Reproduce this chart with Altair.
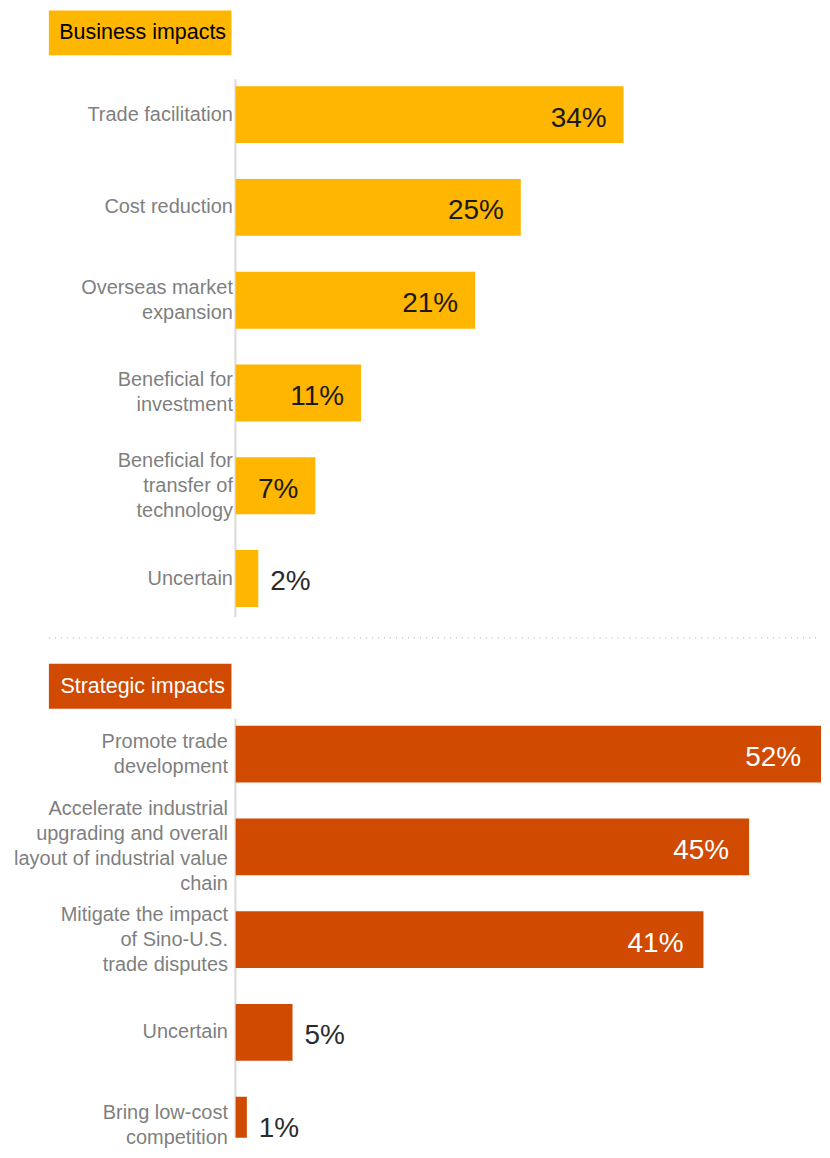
import altair as alt
import pandas as pd

# ---------------- data ----------------
business_categories = [
    "Trade facilitation",
    "Cost reduction",
    "Overseas market|expansion",
    "Beneficial for|investment",
    "Beneficial for|transfer of|technology",
    "Uncertain",
]
business_values = [34, 25, 21, 11, 7, 2]

strategic_categories = [
    "Promote trade|development",
    "Accelerate industrial|upgrading and overall|layout of industrial value|chain",
    "Mitigate the impact|of Sino-U.S.|trade disputes",
    "Uncertain",
    "Bring low-cost|competition",
]
strategic_values = [52, 45, 41, 5, 1]

business_title = "Business impacts"
strategic_title = "Strategic impacts"

FONT = "Liberation Sans"
PLOT_W = 587
X_MAX = 51.3
LINE_H = 25


def panel(cats, vals, bar_color, inside_color, inside_dx, view_h, range_h,
          pad_outer, align, label_pad, heading, heading_fill, heading_color,
          heading_y, extra=None):
    df = pd.DataFrame({"category": cats, "value": vals})
    base = alt.Chart(df).transform_calculate(
        label="datum.value + '%'"
    ).encode(
        y=alt.Y(
            "category:N",
            sort=cats,
            scale=alt.Scale(paddingInner=36 / 93, paddingOuter=pad_outer,
                            align=align, range=[0, range_h]),
            axis=alt.Axis(
                title=None,
                labelExpr="split(datum.label, '|')",
                labelOffset=alt.ExprRef(
                    expr=f"-(length(split(datum.value, '|')) - 1) * {LINE_H / 2}"
                ),
                labelFont=FONT,
                labelFontSize=20,
                labelColor="#7F7F7F",
                labelLineHeight=LINE_H,
                labelPadding=label_pad,
                labelLimit=0,
                ticks=False,
                domain=False,
            ),
        ),
        x=alt.X("value:Q",
                scale=alt.Scale(domain=[0, X_MAX], nice=False, clamp=True),
                axis=None),
    )
    axis_line = alt.Chart(alt.Data(values=[{"a": 1}])).mark_rule(
        color="#D9D9D9", strokeWidth=2
    ).encode(x=alt.value(0), y=alt.value(0), y2=alt.value(view_h))
    bars = base.mark_bar(color=bar_color, clip=True)
    inside = base.transform_filter("datum.value >= 6").mark_text(
        align="right", baseline="middle", dx=inside_dx, dy=4,
        font=FONT, fontSize=28, color=inside_color,
    ).encode(text="label:N")
    outside = base.transform_filter("datum.value < 6").mark_text(
        align="left", baseline="middle", dx=12, dy=4,
        font=FONT, fontSize=28, color="#2B2B2B",
    ).encode(text="label:N")

    head_box = alt.Chart(alt.Data(values=[{"t": heading}])).mark_rect(
        color=heading_fill
    ).encode(
        x=alt.value(-187), x2=alt.value(-4),
        y=alt.value(heading_y), y2=alt.value(heading_y + 45),
    )
    head_text = alt.Chart(alt.Data(values=[{"t": heading}])).mark_text(
        align="center", baseline="middle", font=FONT, fontSize=21.5, color=heading_color,
    ).encode(
        x=alt.value(-93), y=alt.value(heading_y + 23), text="t:N"
    )
    layers = [axis_line, bars, inside, outside, head_box, head_text]
    if extra is not None:
        layers = extra + layers
    return alt.layer(*layers).properties(width=PLOT_W, height=view_h)


anchor = alt.Chart(alt.Data(values=[{"a": 1}])).mark_rule(
    color="white", strokeWidth=1
).encode(x=alt.value(-227), y=alt.value(0), y2=alt.value(1))

separator = alt.Chart(alt.Data(values=[{"a": 1}])).mark_rule(
    color="#A6A6A6", strokeWidth=1, strokeDash=[1, 5]
).encode(x=alt.value(-187), x2=alt.value(PLOT_W), y=alt.value(-81))

top = panel(
    business_categories, business_values, "#FFB600", "#1A1A1A", -17,
    539, 539, 8.5 / 93, 7 / 17, 3,
    business_title, "#FFB600", "#000000", -69, extra=[anchor],
)

bottom = panel(
    strategic_categories, strategic_values, "#D04A02", "#FFFFFF", -20,
    420, 446, 8.5 / 93, 7 / 17, 8,
    strategic_title, "#D04A02", "#FFFFFF", -55, extra=[separator],
)

chart = alt.vconcat(top, bottom, spacing=102, bounds="flush").properties(
    padding=0
).configure_view(stroke="transparent")

chart.save("out.html", embed_options={"renderer": "svg", "actions": False})
